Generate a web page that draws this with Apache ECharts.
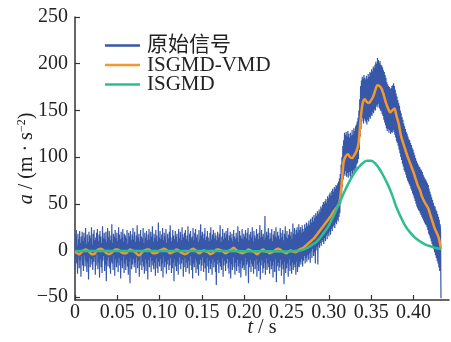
<!DOCTYPE html>
<html>
<head>
<meta charset="utf-8">
<script src="https://cdn.jsdelivr.net/npm/echarts@6/dist/echarts.min.js"></script>
<style>
  html, body { margin: 0; padding: 0; background: #fff; }
  #chart { width: 451px; height: 342px; }
</style>
</head>
<body>
<div id="chart"></div>
<script>
// Raw acceleration record, sampled every 0.5 ms from t = 0
const rawStep = 0.0005;
const rawSignal = [
  -20, 16, -8, 22, -14, 5, -25, 18, -3, 12, -19, 21, -10, 8, -28, 15, -6, 20, -16, 10,
  -22, 19, -5, 14, -17, 24, -11, 7, -23, 17, -13, 9, -31, 20, -8, 16, -18, 13, -9, 25,
  -15, 6, -21, 18, -12, 22, -7, 11, -26, 14, -16, 19, -4, 23, -20, 10, -13, 17, -29, 21,
  -9, 15, -18, 8, -24, 26, -11, 13, -6, 19, -22, 12, -15, 20, -33, 9, -10, 24, -17, 14,
  -7, 21, -19, 11, -25, 16, -12, 28, -14, 8, -21, 18, -5, 15, -27, 22, -9, 13, -18, 19,
  -13, 10, -23, 25, -8, 17, -16, 12, -30, 20, -11, 14, -19, 23, -6, 9, -24, 18, -14, 16,
  -21, 13, -10, 22, -17, 7, -26, 19, -12, 15, -35, 21, -8, 11, -20, 17, -15, 24, -9, 12,
  -18, 20, -13, 9, -24, 16, -7, 27, -19, 14, -11, 18, -28, 10, -16, 22, -5, 15, -21, 13,
  -12, 24, -17, 8, -25, 19, -9, 14, -22, 21, -14, 11, -31, 17, -10, 23, -18, 12, -7, 20,
  -23, 15, -11, 26, -16, 9, -20, 18, -13, 13, -27, 22, -8, 16, -19, 10, -24, 30, -12, 14,
  -17, 21, -9, 12, -22, 17, -14, 24, -29, 11, -6, 19, -18, 15, -12, 23, -25, 8, -15, 18,
  -10, 13, -21, 20, -16, 27, -8, 14, -24, 10, -19, 22, -13, 16, -33, 12, -9, 21, -17, 15,
  -22, 18, -12, 9, -26, 23, -15, 13, -7, 20, -20, 11, -14, 25, -10, 17, -28, 14, -18, 19,
  -8, 22, -23, 12, -13, 16, -19, 26, -11, 10, -25, 18, -16, 21, -6, 13, -21, 15, -30, 24,
  -14, 11, -18, 19, -9, 23, -24, 14, -12, 17, -20, 9, -27, 22, -15, 12, -10, 28, -22, 16,
  -16, 20, -7, 13, -23, 18, -13, 24, -19, 11, -32, 15, -8, 21, -17, 14, -24, 10, -11, 19,
  -20, 25, -14, 12, -26, 17, -9, 22, -18, 13, -12, 19, -23, 16, -37, 11, -15, 20, -10, 14,
  -24, 18, -13, 27, -17, 9, -21, 15, -8, 23, -28, 12, -16, 19, -11, 14, -22, 21, -14, 17,
  -9, 24, -19, 11, -25, 16, -12, 20, -30, 13, -15, 18, -21, 10, -7, 22, -18, 15, -26, 12,
  -13, 19, -22, 14, -10, 26, -17, 9, -24, 21, -14, 16, -29, 13, -11, 23, -19, 12, -16, 18,
  -21, 15, -8, 22, -27, 13, -15, 19, -12, 24, -35, 11, -18, 17, -10, 20, -23, 14, -14, 25,
  -17, 10, -25, 21, -11, 16, -20, 13, -9, 23, -28, 18, -15, 12, -22, 19, -12, 27, -31, 14,
  -16, 22, -10, 15, -24, 18, -19, 11, -13, 37, -26, 14, -8, 20, -21, 16, -14, 24, -18, 12,
  -25, 19, -11, 13, -20, 23, -16, 10, -29, 17, -12, 21, -23, 15, -9, 25, -34, 14, -17, 20,
  -13, 16, -22, 12, -18, 24, -10, 19, -27, 14, -15, 22, -20, 11, -36, 18, -12, 26, -24, 15,
  -19, 21, -14, 13, -28, 17, -9, 23, -22, 16, -16, 20, -25, 12, -13, 29, -21, 18, -15, 24,
  -18, 17, -26, 22, -12, 25, -23, 19, -17, 28,
  -18, 22, -12, 25, -15, 19, -9, 27, -17, 23, -11, 20, -6, 28, -14, 24, -8, 30, -12, 26,
  -5, 29, -10, 32, -3, 27, -13, 34, -1, 30, -8, 36, 2, 31, -6, 38, -2, 35, -14, 40,
  0, 37, 4, 42, -15, 39, 6, 44, 3, 41, 8, 47, 5, 45, 11, 49, 9, 52, 7, 50,
  13, 53, 10, 55, 16, 51, 12, 58, 18, 56, 15, 60, 20, 62, 17, 59, 23, 64, 21, 66,
  25, 63, 27, 68, 24, 66, 30, 70, 28, 69, 33, 72, 31, 74, 36, 77, 40, 82, 50, 92,
  58, 100, 68, 112, 76, 118, 82, 126, 80, 124, 85, 127, 79, 122, 83, 128, 78, 125, 84, 121,
  80, 126, 77, 123, 85, 129, 82, 124, 86, 131, 84, 128, 88, 133, 87, 135, 92, 138, 94, 142,
  98, 150, 108, 162, 122, 176, 130, 182, 138, 186, 142, 184, 136, 188, 141, 185, 139, 183, 137, 187,
  135, 184, 140, 189, 138, 186, 143, 191, 141, 190, 145, 194, 144, 192, 148, 197, 147, 195, 151, 199,
  150, 202, 154, 200, 156, 206, 153, 204, 157, 201, 152, 203, 150, 199, 149, 198, 146, 196, 144, 193,
  140, 191, 137, 188, 134, 185, 131, 180, 128, 178, 130, 176, 126, 175, 129, 173, 125, 174, 127, 176,
  126, 177, 129, 179, 127, 176, 124, 172, 121, 168, 117, 165, 115, 161, 112, 158, 108, 155, 104, 150,
  100, 147, 97, 143, 93, 140, 90, 136, 86, 133, 84, 130, 81, 127, 78, 125, 75, 122, 73, 119,
  71, 118, 69, 115, 66, 113, 64, 110, 61, 108, 59, 105, 56, 102, 53, 99, 50, 96, 47, 94,
  45, 92, 43, 90, 42, 89, 40, 87, 38, 86, 36, 84, 34, 81, 32, 79, 30, 77, 28, 76,
  27, 74, 25, 72, 22, 70, 18, 66, 16, 63, 13, 60, 10, 57, 7, 54, 4, 51, 1, 48,
  -2, 47, -5, 44, -8, 42, -11, 39, -14, 36, -18, 33, -22, 28, 20, -51
];

// ISGMD-VMD denoised signal, every 2.5 ms from t = 0
const vmdStep = 0.0025;
const vmdSignal = [
  -1, -3, -4, -2, 0, 1, 0, -2, -4, -4, -1, 1, 2, 1, -1, -3, -4, -3, -1, 1,
  1, 0, -2, -3, -3, -1, 1, 0, -1, -3, -5, -4, -1, 0, 1, 1, -1, -3, -3, -2,
  0, 1, 2, 1, -1, -3, -2, -1, 1, 0, -2, -3, -4, -3, -1, 1, 2, 0, -2, -3,
  -1, 0, -1, -2, -4, -3, -1, 1, 1, 0, -1, -3, -2, 0, 1, 3, 1, -1, -2, -3,
  -2, -1, 1, 0, -1, -2, -4, -2, 0, 1, -1, -1, -3, -2, -1, 1, 2, 1, -1, -2,
  -3, -1, 0, -1, -2, -1, 1,
  2, 3, 5, 7, 9, 11, 13, 16, 19, 22, 25, 28, 31,
  34, 37, 41, 44, 47, 51, 70, 95,
  101, 103, 100, 99, 102, 106, 114, 140, 158, 162, 159, 158,
  161, 165, 172, 177, 176, 173, 166, 158, 152, 148, 150, 152,
  144, 136, 124, 116, 109, 102, 96, 90, 84, 77, 70, 65,
  58, 53, 49, 45, 38, 31, 24, 19, 13, 2
];

// ISGMD reconstruction
const isgmdTimes = [
  0, 0.05, 0.10, 0.15, 0.20, 0.25, 0.26, 0.265, 0.27, 0.275, 0.28, 0.285, 0.29, 0.295,
  0.30, 0.305, 0.31, 0.315, 0.32, 0.325, 0.33, 0.335, 0.34, 0.345, 0.35, 0.355, 0.36,
  0.365, 0.37, 0.375, 0.38, 0.385, 0.39, 0.395, 0.40, 0.405, 0.41, 0.415, 0.42, 0.425,
  0.43, 0.4325
];
const isgmdSignal = [
  -0.5, -0.5, -0.5, -0.5, -0.8, -1, -0.5, 0, 1, 3, 6, 9, 14, 20,
  27, 36, 46, 56, 66, 75, 83, 89, 93.5, 96, 96, 93, 87,
  79, 70, 59, 46, 36, 27, 20.5, 15.5, 11.5, 8.5, 6, 4.5, 3,
  2, 1.5
];

const xTicks = [0, 0.05, 0.10, 0.15, 0.20, 0.25, 0.30, 0.35, 0.40];
const yTicks = [-50, 0, 50, 100, 150, 200, 250];

const seriesNames = ['原始信号', 'ISGMD-VMD', 'ISGMD'];
const seriesColors = ['#3758a8', '#f5972f', '#2ebd8c'];

const serif = "'Liberation Serif', 'Noto Sans CJK SC', serif";
const inkColor = '#222';

const rawData = rawSignal.map((v, i) => [i * rawStep, v]);
const vmdData = vmdSignal.map((v, i) => [i * vmdStep, v]);
const isgmdData = isgmdTimes.map((t, i) => [t, isgmdSignal[i]]);

const chart = echarts.init(document.getElementById('chart'), null, { renderer: 'canvas' });

chart.setOption({
  animation: false,
  backgroundColor: '#fff',
  grid: { left: 75, right: 2, top: 17, bottom: 42, containLabel: false, outerBoundsMode: 'none' },
  legend: {
    data: seriesNames,
    orient: 'vertical',
    left: 105,
    top: 35,
    padding: 0,
    itemWidth: 35,
    itemHeight: 2.5,
    itemGap: -1.5,
    icon: 'rect',
    itemStyle: { opacity: 1 },
    textStyle: { fontFamily: serif, fontSize: 21, color: inkColor, lineHeight: 19, padding: [0, 0, 0, 2] }
  },
  xAxis: {
    type: 'value',
    min: 0,
    max: 0.442,
    name: '{i|t} / s',
    nameLocation: 'middle',
    nameGap: 18,
    nameMoveOverlap: false,
    nameTextStyle: {
      fontFamily: serif, fontSize: 20, color: inkColor,
      rich: { i: { fontFamily: serif, fontSize: 20, fontStyle: 'italic', color: inkColor } }
    },
    axisLine: { show: true, onZero: false, lineStyle: { color: '#333', width: 1.5 } },
    axisTick: { show: true, inside: true, length: 5, customValues: xTicks, lineStyle: { color: '#333', width: 1.2 } },
    axisLabel: {
      customValues: xTicks,
      margin: 3,
      fontFamily: serif, fontSize: 20, color: inkColor,
      formatter: v => (v === 0 ? '0' : v.toFixed(2))
    },
    splitLine: { show: false }
  },
  yAxis: {
    type: 'value',
    min: -53,
    max: 250,
    name: '{i|a} / (m · s{sup|−2})',
    nameLocation: 'middle',
    nameRotate: 90,
    nameGap: 37,
    nameMoveOverlap: false,
    nameTextStyle: {
      fontFamily: serif, fontSize: 20, color: inkColor,
      rich: {
        i: { fontFamily: serif, fontSize: 20, fontStyle: 'italic', color: inkColor },
        sup: { fontFamily: serif, fontSize: 12, color: inkColor, padding: [0, 0, 10, 0] }
      }
    },
    axisLine: { show: true, onZero: false, lineStyle: { color: '#333', width: 1.5 } },
    axisTick: { show: true, inside: true, length: 5, customValues: yTicks, lineStyle: { color: '#333', width: 1.2 } },
    axisLabel: {
      customValues: yTicks,
      margin: 7,
      fontFamily: serif, fontSize: 20, color: inkColor,
      formatter: v => (v < 0 ? '\u2212' + (-v) : String(v))
    },
    splitLine: { show: false }
  },
  series: [
    {
      name: seriesNames[0],
      type: 'line',
      data: rawData,
      symbol: 'none',
      sampling: null,
      color: seriesColors[0],
      lineStyle: { width: 1.2, color: seriesColors[0] },
      z: 1
    },
    {
      name: seriesNames[1],
      type: 'line',
      data: vmdData,
      symbol: 'none',
      smooth: 0.3,
      color: seriesColors[1],
      lineStyle: { width: 2.5, color: seriesColors[1] },
      z: 2
    },
    {
      name: seriesNames[2],
      type: 'line',
      data: isgmdData,
      symbol: 'none',
      smooth: 0.4,
      color: seriesColors[2],
      lineStyle: { width: 2.5, color: seriesColors[2] },
      z: 3
    }
  ]
});
</script>
</body>
</html>
